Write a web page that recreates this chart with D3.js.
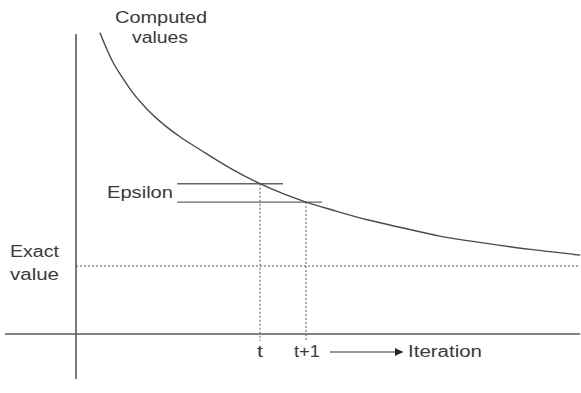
<!DOCTYPE html>
<html>
<head>
<meta charset="utf-8">
<script src="https://cdn.jsdelivr.net/npm/d3@7"></script>
<style>
    body { margin: 0; background: #fff; }
    #chart { width: 581px; height: 393px; }
    text { font-family: "Liberation Sans", Arial, sans-serif; fill: #3a3a3a; }
</style>
</head>
<body>
<div id="chart"></div>
<script>
//Datos (iteración, valor calculado)
let iterations = [0.52, 0.80, 1.02, 1.28, 1.54, 1.89, 2.26, 2.70, 3.35, 4.00, 5.00, 5.59, 6.33, 7.04, 7.91, 8.85, 9.93, 10.96];
let computedValues = [4.43, 4.00, 3.76, 3.51, 3.31, 3.09, 2.90, 2.71, 2.44, 2.21, 1.94, 1.82, 1.68, 1.57, 1.44, 1.34, 1.24, 1.16];
let exactValue = 1;
let tickIterations = [4, 5];
let tickLabels = ['t', 't+1'];
let epsilonValues = [2.21, 1.94];
let epsilonEnds = [4.5, 5.35];

//Colores
let axis_color = '#5a5a5a', curve_color = '#4a4a4a', guide_color = '#555';

function getChart() {
    let chartBlock = d3.select('#chart');
    let width = 581, height = 393;

    let svg = chartBlock.append('svg')
        .attr('width', width)
        .attr('height', height);

    //Escalas
    let x = d3.scaleLinear().domain([0, 11]).range([76, 582]);
    let y = d3.scaleLinear().domain([0, 5]).range([334, -6]);

    //Ejes
    svg.append('line')
        .attr('x1', x(0)).attr('x2', x(0))
        .attr('y1', y(4.41)).attr('y2', y(-0.66))
        .style('stroke', axis_color).style('stroke-width', 1.6);

    svg.append('line')
        .attr('x1', 5).attr('x2', x(10.96))
        .attr('y1', y(0)).attr('y2', y(0))
        .style('stroke', axis_color).style('stroke-width', 1.6);

    //Línea del valor exacto
    svg.append('line')
        .attr('x1', x(0)).attr('x2', x(10.96))
        .attr('y1', y(exactValue)).attr('y2', y(exactValue))
        .style('stroke', guide_color).style('stroke-width', 1)
        .style('stroke-dasharray', '2,2');

    //Líneas verticales punteadas
    svg.selectAll('.vguide')
        .data(tickIterations)
        .enter()
        .append('line')
        .attr('class', 'vguide')
        .attr('x1', function(d) { return x(d); })
        .attr('x2', function(d) { return x(d); })
        .attr('y1', function(d, i) { return y(epsilonValues[i]); })
        .attr('y2', y(-0.1))
        .style('stroke', guide_color).style('stroke-width', 1)
        .style('stroke-dasharray', '2,2');

    //Líneas de epsilon
    svg.selectAll('.eps')
        .data(epsilonValues)
        .enter()
        .append('line')
        .attr('class', 'eps')
        .attr('x1', x(2.2))
        .attr('x2', function(d, i) { return x(epsilonEnds[i]); })
        .attr('y1', function(d) { return y(d); })
        .attr('y2', function(d) { return y(d); })
        .style('stroke', '#666').style('stroke-width', 1.4);

    //Curva
    let data = iterations.map(function(d, i) { return {it: d, val: computedValues[i]}; });
    let line = d3.line()
        .x(function(d) { return x(d.it); })
        .y(function(d) { return y(d.val); })
        .curve(d3.curveMonotoneX);

    svg.append('path')
        .datum(data)
        .attr('d', line)
        .style('fill', 'none')
        .style('stroke', curve_color)
        .style('stroke-width', 1.4);

    //Textos
    function label(txt, x0, yb, len) {
        svg.append('text')
            .attr('x', x0).attr('y', yb)
            .attr('textLength', len)
            .attr('lengthAdjust', 'spacingAndGlyphs')
            .style('font-size', '16px')
            .text(txt);
    }
    label('Computed', 115, 23, 92);
    label('values', 132, 43, 56);
    label('Epsilon', 107, 198, 66);
    label('Exact', 10, 257, 49);
    label('value', 10, 280, 49);
    label('Iteration', 408, 357, 74);

    //Etiquetas de iteración
    svg.selectAll('.tick-label')
        .data(tickIterations)
        .enter()
        .append('text')
        .attr('class', 'tick-label')
        .attr('x', function(d, i) { return i == 0 ? x(d) - 3 : x(d) - 12; })
        .attr('y', 357)
        .attr('textLength', function(d, i) { return i == 0 ? 6 : 26; })
        .attr('lengthAdjust', 'spacingAndGlyphs')
        .style('font-size', '16px')
        .text(function(d, i) { return tickLabels[i]; });

    //Flecha
    svg.append('defs').append('marker')
        .attr('id', 'arrow')
        .attr('viewBox', '0 0 10 10')
        .attr('refX', 10).attr('refY', 5)
        .attr('markerWidth', 10).attr('markerHeight', 8)
        .attr('markerUnits', 'userSpaceOnUse')
        .attr('orient', 'auto')
        .append('path')
        .attr('d', 'M0,0L10,5L0,10Z')
        .style('fill', '#222');

    svg.append('line')
        .attr('x1', 330).attr('x2', 403)
        .attr('y1', 352).attr('y2', 352)
        .style('stroke', '#333').style('stroke-width', 1.2)
        .attr('marker-end', 'url(#arrow)');
}

getChart();
</script>
</body>
</html>
